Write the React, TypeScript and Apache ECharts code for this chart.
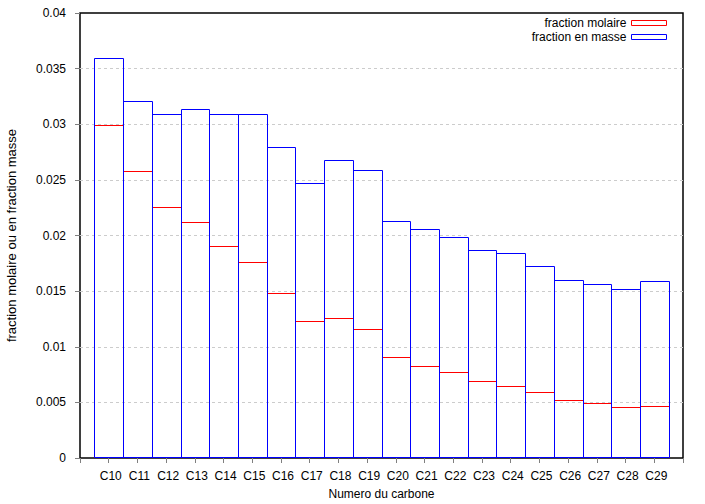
import React, { useEffect, useRef } from "react";
import * as echarts from "echarts";

const categories = [
  "C10", "C11", "C12", "C13", "C14", "C15", "C16", "C17", "C18", "C19",
  "C20", "C21", "C22", "C23", "C24", "C25", "C26", "C27", "C28", "C29",
];

const fractionMolaire = [
  0.0299, 0.0258, 0.0226, 0.0212, 0.0191, 0.0176, 0.0148, 0.0123, 0.0126, 0.0116,
  0.0091, 0.0083, 0.0077, 0.0069, 0.0065, 0.0059, 0.0052, 0.0049, 0.0046, 0.0047,
];

const fractionMasse = [
  0.0360, 0.0321, 0.0309, 0.0314, 0.0309, 0.0309, 0.0280, 0.0247, 0.0268, 0.0259,
  0.0213, 0.0206, 0.0199, 0.0187, 0.0184, 0.0173, 0.0160, 0.0156, 0.0152, 0.0159,
];

const yTicks = { min: 0, max: 0.04, interval: 0.005 };

const FONT = "'Liberation Sans', Arial, sans-serif";

function boxSeries(name: string, values: number[], color: string) {
  return {
    name,
    type: "custom",
    data: values.map((v, i) => [i, v]),
    itemStyle: { color },
    renderItem: (params: any, api: any) => {
      const x = api.value(0);
      const v = api.value(1);
      const top = api.coord([x, v]);
      const base = api.coord([x, 0]);
      const w = api.size([1, 0])[0];
      const x0 = Math.round(top[0] - w / 2) + 0.5;
      const x1 = Math.round(top[0] + w / 2) + 0.5;
      const y0 = Math.round(top[1]) + 0.5;
      const y1 = Math.round(base[1]) - 0.5;
      return {
        type: "rect",
        shape: { x: x0, y: y0, width: x1 - x0, height: y1 - y0 },
        style: { fill: "none", stroke: color, lineWidth: 1 },
      };
    },
  };
}

export default function App() {
  const ref = useRef<HTMLDivElement>(null);
  useEffect(() => {
    if (!ref.current) return;
    const chart = echarts.init(ref.current, null, { renderer: "svg" });
    chart.setOption({
      animation: false,
      backgroundColor: "#ffffff",
      textStyle: { fontFamily: FONT },
      grid: {
        left: 80,
        right: 22,
        top: 13,
        bottom: 46,
        outerBoundsMode: "none",
        containLabel: false,
        show: true,
        borderColor: "#000000",
        borderWidth: 1.5,
        backgroundColor: "transparent",
      },
      legend: {
        orient: "vertical",
        right: 36,
        top: 17,
        padding: 0,
        align: "right",
        itemWidth: 35,
        itemHeight: 5,
        itemGap: 2,
        textStyle: { fontSize: 12, color: "#000", fontFamily: FONT, lineHeight: 12 },
        data: [
          {
            name: "fraction molaire",
            icon: "rect",
            itemStyle: { color: "none", borderColor: "#ff0000", borderWidth: 1 },
          },
          {
            name: "fraction en masse",
            icon: "rect",
            itemStyle: { color: "none", borderColor: "#0000ff", borderWidth: 1 },
          },
        ],
      },
      xAxis: {
        type: "value",
        min: -1,
        max: categories.length,
        interval: 1,
        name: "Numero du carbone",
        nameLocation: "middle",
        nameGap: 30,
        nameTextStyle: { fontSize: 12, color: "#000", fontFamily: FONT },
        axisLine: { show: false, onZero: false },
        axisTick: {
          show: true,
          inside: false,
          length: 5,
          lineStyle: { color: "#808080" },
        },
        axisLabel: {
          fontSize: 12,
          color: "#000",
          margin: 12,
          fontFamily: FONT,
          padding: [0, 0, 0, 4],
          formatter: (v: number) => categories[v] ?? "",
        },
        splitLine: { show: false },
      },
      yAxis: {
        type: "value",
        min: yTicks.min,
        max: yTicks.max,
        interval: yTicks.interval,
        name: "fraction molaire ou en fraction masse",
        nameLocation: "middle",
        nameRotate: 90,
        nameGap: 62,
        nameTextStyle: { fontSize: 13, color: "#000", fontFamily: FONT },
        axisLine: { show: false, onZero: false },
        axisTick: {
          show: true,
          inside: false,
          length: 5,
          lineStyle: { color: "#808080" },
        },
        axisLabel: {
          fontSize: 12,
          color: "#000",
          margin: 14,
          fontFamily: FONT,
          formatter: (v: number) => String(parseFloat(v.toFixed(4))),
        },
        splitLine: {
          show: true,
          showMinLine: false,
          showMaxLine: false,
          lineStyle: { color: "#cccccc", type: [3, 3], width: 1 },
        },
      },
      series: [
        boxSeries("fraction molaire", fractionMolaire, "#ff0000"),
        boxSeries("fraction en masse", fractionMasse, "#0000ff"),
      ],
    });
    return () => chart.dispose();
  }, []);
  return <div ref={ref} style={{ width: 705, height: 504, position: "absolute", left: 0, top: 0 }} />;
}
